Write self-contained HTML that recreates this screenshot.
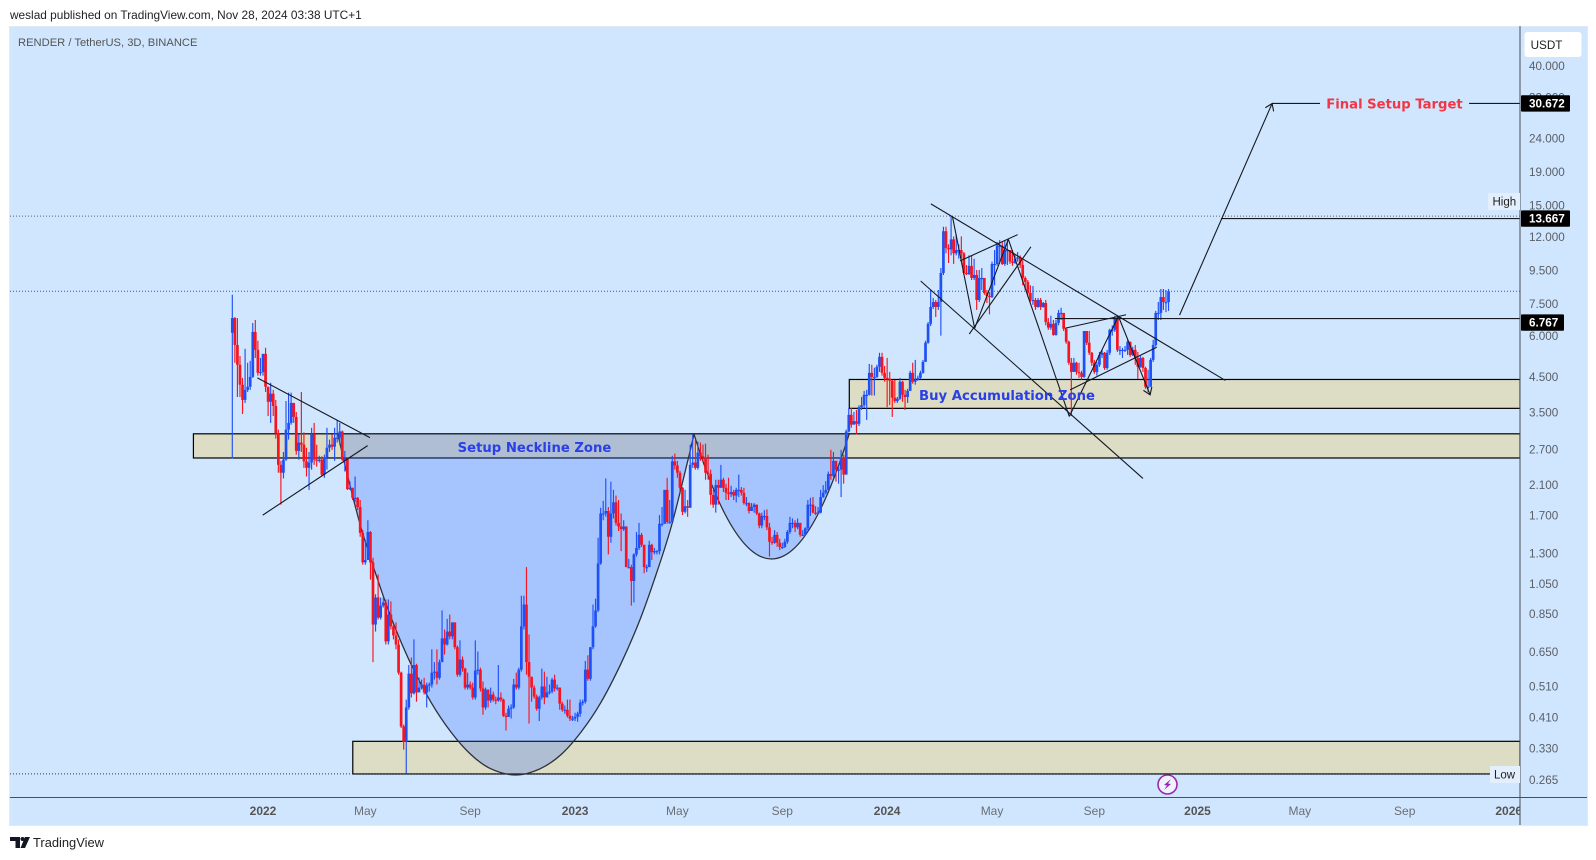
<!DOCTYPE html>
<html lang="en">
<head>
<meta charset="utf-8">
<title>RENDER / TetherUS chart</title>
<style>
html,body{margin:0;padding:0;background:#fff;width:1596px;height:860px;overflow:hidden}
svg{display:block}
text{font-family:"Liberation Sans",sans-serif}
.bold{font-family:"DejaVu Sans",sans-serif;font-weight:bold}
</style>
</head>
<body>
<svg id="chart" width="1596" height="860" viewBox="0 0 1596 860" xmlns="http://www.w3.org/2000/svg">
<defs><clipPath id="plotClip"><rect x="10" y="26" width="1510" height="799"/></clipPath></defs>
<text x="10" y="19" font-size="11.85" fill="#222">weslad published on TradingView.com, Nov 28, 2024 03:38 UTC+1</text>
<rect x="9.5" y="26.5" width="1578" height="799" fill="#d0e6fe" stroke="#e4e8ef"/>
<g id="zones" clip-path="url(#plotClip)"></g>
<g id="cups" clip-path="url(#plotClip)"></g>
<g id="candles" clip-path="url(#plotClip)"></g>
<g id="lines" clip-path="url(#plotClip)"></g>
<text class="bold" x="534.5" y="451.8" font-size="13.2" text-anchor="middle" fill="#2a3fe6">Setup Neckline Zone</text>
<text class="bold" x="1007" y="399.8" font-size="13.25" text-anchor="middle" fill="#2a3fe6">Buy Accumulation Zone</text>
<text class="bold" x="1394.5" y="108.3" font-size="13.2" text-anchor="middle" fill="#f23645">Final Setup Target</text>
<text x="18" y="46" font-size="11.2" fill="#555">RENDER / TetherUS, 3D, BINANCE</text>
<line x1="1520" y1="26" x2="1520" y2="825" stroke="#4a4f57" stroke-width="1"/>
<line x1="10" y1="797.5" x2="1587" y2="797.5" stroke="#4a4f57" stroke-width="1"/>
<g id="priceAxis"></g>
<g id="timeAxis" clip-path="url(#plotClip)"></g>
<g>
<rect x="1524.5" y="32" width="57" height="25" rx="3" fill="#fff"/>
<text x="1546.5" y="49" font-size="11.7" text-anchor="middle" fill="#222">USDT</text>
</g>
<g id="priceTags"></g>
<g>
<rect x="1488" y="193" width="32" height="17" fill="#e3effd"/>
<text x="1492.5" y="205.5" font-size="11.5" fill="#222">High</text>
</g>
<g>
<rect x="1490" y="766" width="30" height="17" fill="#e3effd"/>
<text x="1494" y="778.5" font-size="11.5" fill="#222">Low</text>
</g>
<g>
<circle cx="1167.5" cy="784.5" r="9.5" fill="#eef3fd" stroke="#9c27b0" stroke-width="1.6"/>
<polygon points="1171,779 1164,785 1167,785.5 1164,790 1171,784 1168,783.5" fill="#9c27b0"/>
</g>
<g>
<polygon points="10,837 20,837 20,848 15.5,848 15.5,841 10,841" fill="#131722"/>
<circle cx="22.5" cy="839" r="2" fill="#131722"/>
<polygon points="25,837 30,837 25,848 20.5,848" fill="#131722"/>
<text x="33" y="847" font-size="12.9" fill="#222">TradingView</text>
</g>
</svg>
<script>
/* ---------- chart data ---------- */
const firstOpen = 6.12;
const closes = [6.79,5.62,4.89,4.25,3.82,4.10,4.19,4.49,6.16,5.43,4.62,4.65,5.28,4.19,3.77,3.99,3.66,3.02,2.42,2.29,2.51,3.10,3.25,3.74,3.39,2.67,2.83,2.79,2.48,2.37,2.46,3.00,2.51,2.49,2.51,2.26,2.55,2.73,2.79,2.75,2.93,2.93,3.06,2.51,2.53,2.04,2.06,1.92,1.92,1.80,1.50,1.22,1.24,1.51,1.22,.788,.953,.827,.90,.92,.70,.845,.778,.73,.685,.562,.385,.346,.44,.558,.486,.593,.489,.506,.517,.489,.514,.517,.562,.566,.542,.605,.715,.685,.75,.725,.80,.672,.554,.616,.578,.506,.517,.506,.472,.57,.574,.503,.44,.499,.462,.482,.465,.462,.472,.465,.415,.412,.436,.44,.517,.506,.574,.778,.907,.605,.546,.506,.475,.436,.472,.51,.472,.489,.492,.535,.503,.506,.452,.433,.433,.415,.407,.407,.412,.421,.455,.458,.574,.538,.672,.778,.87,1.21,1.72,1.72,1.75,1.46,1.72,1.86,1.61,1.57,1.54,1.57,1.18,1.18,1.07,1.29,1.35,1.48,1.38,1.18,1.18,1.38,1.31,1.32,1.32,1.60,1.60,2.03,1.62,1.62,2.48,2.41,2.29,2.06,1.74,1.81,1.79,2.42,2.46,2.37,2.64,2.57,2.55,2.29,2.27,1.96,1.83,2.10,2.06,2.18,2.06,1.99,1.97,2.00,1.95,2.03,2.03,1.99,1.85,1.85,1.75,1.80,1.83,1.72,1.58,1.69,1.69,1.56,1.41,1.40,1.48,1.40,1.36,1.36,1.41,1.51,1.61,1.61,1.56,1.61,1.48,1.48,1.55,1.83,1.83,1.73,1.72,1.73,1.93,1.99,2.03,2.27,2.24,2.49,2.34,2.34,2.55,2.26,3.06,3.44,3.21,3.29,3.23,3.63,3.68,3.96,3.96,4.62,4.49,4.49,4.82,5.17,4.62,4.46,4.43,4.37,3.88,3.79,3.85,4.34,3.96,3.90,4.07,4.62,4.34,4.40,4.46,4.62,4.99,5.71,6.52,7.34,7.60,7.34,7.60,9.32,12.5,11.1,11.0,11.8,10.7,10.95,10.95,10.7,9.32,9.25,9.8,9.0,9.19,7.71,9.0,9.0,8.1,7.93,7.87,9.93,9.93,11.3,11.3,9.93,10.95,10.95,10.1,10.0,10.3,10.4,9.86,9.0,8.75,8.1,7.71,7.71,7.34,7.71,7.34,7.55,6.6,6.35,6.52,6.03,6.56,7.04,7.04,6.3,5.75,4.96,4.65,4.96,4.65,4.62,4.49,6.2,5.71,5.32,4.96,4.65,4.89,5.24,5.32,4.78,5.32,6.25,6.25,6.79,5.43,5.43,5.43,5.43,5.75,5.24,5.43,5.13,4.82,5.13,4.78,4.19,4.19,5.06,5.62,7.04,7.04,7.87,7.60,7.60,8.2];
const highs = [8.0,6.84,6.79,5.2,4.46,5.47,4.96,5.03,6.56,6.7,5.79,5.13,5.28,5.51,4.19,4.31,4.1,3.82,3.1,2.49,2.65,3.79,4.02,4.02,3.74,3.51,3.0,4.04,3.04,2.73,2.65,3.14,3.25,2.79,2.58,2.57,2.6,3.14,2.89,3.0,3.14,3.32,3.25,3.08,2.67,2.55,2.15,2.06,2.23,1.93,1.89,1.53,1.43,1.64,1.52,1.26,.975,1.12,.953,.953,.94,.94,.927,.788,.80,.71,.566,.39,.465,.593,.625,.71,.598,.542,.535,.542,.524,.524,.662,.605,.662,.616,.87,.761,.82,.845,.80,.80,.68,.705,.63,.582,.562,.528,.524,.705,.652,.582,.528,.506,.472,.506,.492,.475,.593,.489,.468,.424,.446,.45,.538,.562,.582,.965,.965,1.18,.735,.546,.514,.482,.478,.578,.566,.546,.517,.542,.554,.517,.506,.458,.446,.465,.465,.415,.424,.427,.465,.465,.61,.635,.672,.907,.945,1.45,1.79,1.88,2.2,1.80,2.15,2.03,1.95,1.89,1.72,1.64,1.57,1.25,1.2,1.3,1.51,1.61,1.5,1.38,1.2,1.42,1.39,1.35,1.33,1.7,1.8,2.03,2.21,1.89,2.58,2.62,2.49,2.32,2.07,2.03,1.89,2.79,3.0,2.89,2.85,2.83,2.79,2.81,2.6,2.34,2.03,2.18,2.18,2.42,2.21,2.12,2.21,2.09,2.03,2.06,2.26,2.07,2.06,1.93,1.86,1.85,1.85,1.83,1.73,1.73,1.76,1.77,1.61,1.46,1.53,1.51,1.44,1.40,1.44,1.53,1.68,1.66,1.64,1.66,1.58,1.53,1.56,1.89,1.92,1.93,1.81,1.8,2.03,2.1,2.16,2.31,2.69,2.65,2.49,2.42,2.69,2.6,3.1,3.61,3.61,3.51,3.56,3.68,3.9,4.07,4.1,4.92,4.89,4.79,4.89,5.32,5.32,4.85,5.13,4.65,4.4,4.4,3.9,4.46,4.37,4.1,4.13,4.69,4.96,5.06,4.53,4.69,5.06,5.79,6.6,8.27,7.82,7.71,8.27,9.65,12.9,12.9,11.4,13.9,12.05,12.2,11.4,12.05,10.8,9.86,10.55,10.55,10.3,9.52,9.52,9.65,9.0,8.27,8.15,10.1,10.95,11.6,11.74,11.6,11.74,11.74,10.95,10.95,10.65,10.8,10.55,10.2,9.1,8.87,8.55,8.5,7.82,7.82,7.82,7.6,7.71,6.79,6.9,6.7,6.7,7.19,7.3,7.04,6.3,5.79,5.13,5.13,4.99,4.96,4.69,6.2,6.2,6.2,5.35,5.06,4.99,5.35,5.43,5.35,5.43,6.3,6.45,6.9,6.9,5.58,5.51,5.58,5.83,5.75,5.55,5.62,5.35,5.2,5.17,4.82,4.72,5.13,5.83,7.14,7.6,8.33,8.33,8.27,8.33];
const lows = [2.53,4.96,3.9,3.9,3.46,3.74,4.04,4.1,4.46,5.13,4.53,4.53,4.53,4.04,3.41,3.25,3.41,2.91,2.29,1.83,2.2,2.49,2.89,3.21,3.25,2.6,2.51,2.65,2.37,2.23,2.03,2.34,2.42,2.39,2.46,2.24,2.21,2.34,2.65,2.69,2.49,2.83,2.79,2.49,2.31,2.03,2.03,1.89,1.86,1.76,1.46,1.2,1.2,1.24,1.08,.605,.75,.816,.816,.888,.685,.685,.761,.71,.662,.554,.381,.327,.276,.433,.472,.482,.458,.492,.499,.482,.44,.492,.506,.535,.517,.535,.605,.638,.68,.71,.71,.662,.546,.546,.566,.499,.499,.499,.465,.465,.554,.492,.418,.433,.44,.455,.458,.45,.458,.458,.412,.374,.412,.407,.436,.499,.499,.566,.761,.554,.393,.458,.468,.43,.40,.465,.45,.475,.482,.486,.492,.496,.433,.427,.421,.41,.40,.40,.40,.398,.412,.446,.452,.531,.531,.662,.771,.86,1.2,1.64,1.68,1.29,1.4,1.66,1.58,1.52,1.32,1.52,1.18,1.17,.90,.92,1.27,1.33,1.36,1.13,1.14,1.18,1.24,1.29,1.29,1.29,1.57,1.66,1.6,1.6,1.64,2.34,2.21,2.0,1.7,1.72,1.68,1.79,2.37,2.34,2.34,2.49,2.48,2.18,2.18,1.83,1.79,1.73,1.83,2.06,2.0,1.89,1.89,1.93,1.89,1.86,1.93,1.95,1.83,1.81,1.72,1.76,1.73,1.7,1.55,1.55,1.64,1.53,1.27,1.38,1.39,1.36,1.33,1.34,1.35,1.39,1.49,1.55,1.51,1.54,1.46,1.47,1.47,1.51,1.69,1.72,1.7,1.71,1.72,1.92,1.97,2.03,2.18,2.21,2.15,2.12,1.93,2.12,2.26,3.04,3.14,3.21,3.0,3.18,3.56,3.61,3.32,3.94,3.94,3.94,4.46,4.65,4.53,4.34,3.63,3.68,3.39,3.74,3.74,3.82,3.77,3.56,3.74,4.1,4.28,4.25,4.37,4.43,4.59,4.99,5.67,6.42,7.24,6.84,7.19,6.0,9.19,10.7,10.0,10.55,9.93,10.55,10.3,10.3,9.19,9.19,9.19,8.87,8.87,7.19,7.6,8.27,8.0,7.55,6.97,7.82,8.55,9.8,10.1,9.86,9.8,9.86,9.93,9.8,9.93,10.1,9.65,8.55,8.27,7.87,7.6,7.45,7.19,7.3,7.19,7.3,6.45,6.25,6.25,6.0,6.0,6.45,6.7,6.2,5.67,4.89,3.41,4.65,4.56,4.46,4.4,4.46,5.62,5.24,4.85,4.59,4.53,4.82,5.13,4.72,4.72,5.24,6.0,6.16,5.35,5.24,5.13,5.35,5.24,5.17,5.2,4.89,4.43,4.79,4.65,4.13,4.04,4.22,4.99,5.55,6.7,6.7,7.19,7.08,7.14];
const priceTicks = [40,32,24,19,15,12,9.5,7.5,6,4.5,3.5,2.7,2.1,1.7,1.3,1.05,.85,.65,.51,.41,.33,.265];
const timeTickLabels = ["2022","May","Sep","2023","May","Sep","2024","May","Sep","2025","May","Sep","2026"];
const timeTickDates = ["2022-01-01","2022-05-01","2022-09-01","2023-01-02","2023-05-02","2023-09-02","2024-01-03","2024-05-05","2024-09-02","2025-01-01","2025-05-01","2025-09-01","2026-01-01"];
const firstBarDate = "2021-11-26";
const tagPrices = [30.672,13.667,6.767];

/* drawings, anchored as [bar index, price] */
const zoneNeck = [-15.2,3.01,2.54];
const zoneBuy = [241.2,4.41,3.60];
const zoneLow = [47.1,.3468,.2757];
const cupBig = [[41.3,3.0],[44.4,2.353],[50.3,1.558],[56.2,1.116],[62.4,.816],[69.8,.598],[77.7,.456],[85.5,.37],[93.3,.316],[101.1,.286],[110.9,.2738],[120.3,.286],[128.5,.316],[136.3,.37],[144.1,.456],[151.9,.598],[159.4,.816],[165.6,1.116],[171.5,1.558],[177.3,2.353],[180.5,3.0]];
const cupSmallStart = [180.5,3.0];
const cupSmallControl = [210.8,.52];
const cupSmallEnd = [241.1,3.0];
const trendSegments = [
 [9.8,4.46,53.8,2.93],[11.9,1.70,52.9,2.77],[273.1,15.15,388.2,4.38],[269.1,8.81,356,2.20],
 [281.5,13.9,290.2,6.32],[290.2,6.32,303.4,11.8],[303.4,11.8,327.2,3.40],[284.5,10.15,307,12.2],
 [288.1,6.07,312.2,11.2],[327.2,3.40,346.4,6.87],[346.4,6.87,358.8,3.96],[325.5,6.32,349.4,6.95],
 [327.5,4.10,361.4,5.53],[370.3,6.93,406.5,30.672],[406.5,30.672,425.2,30.672],[483.5,30.672,503.4,30.672],
 [386.5,13.667,503.4,13.667],[321.6,6.767,503.4,6.767]];
const arrowSegmentIndexes = [13,10];

/* ---------- scales ---------- */
const barX0 = 232.3, barStep = 2.558, priceRefY = 65.7, priceRef = 40, pxPerLog = 142.3;
function xOf(i){ return barX0 + barStep * i; }
function yOf(p){ return priceRefY + pxPerLog * Math.log(priceRef / p); }
function dateToBar(s){ return (Date.parse(s) - Date.parse(firstBarDate)) / 864e5 / 3; }
const NS = "http://www.w3.org/2000/svg";
function mk(tag, parent){ const e = document.createElementNS(NS, tag); parent.appendChild(e); return e; }
function setA(e, o){ for (const k in o) e.setAttribute(k, o[k]); return e; }
const $ = id => document.getElementById(id);

/* ---------- zones ---------- */
function drawZone(z, name){
  const r = mk('rect', $('zones'));
  
  
  const y1 = yOf(z[1]), y2 = yOf(z[2]), x1 = xOf(z[0]);
  setA(r, {x:x1, y:y1, width:1520 - x1, height:y2 - y1, fill:'#dddcc5', stroke:'#000', 'stroke-width':1.2});
}
drawZone(zoneNeck, 'setup-neckline-zone');
drawZone(zoneBuy, 'buy-accumulation-zone');
drawZone(zoneLow, 'bottom-support-zone');

/* ---------- cups ---------- */
function smooth(pts){
  let d = 'M' + pts[0][0].toFixed(1) + ' ' + pts[0][1].toFixed(1);
  for (let k = 0; k < pts.length - 1; k++){
    const p0 = pts[Math.max(k-1,0)], p1 = pts[k], p2 = pts[k+1], p3 = pts[Math.min(k+2,pts.length-1)];
    const c1x = p1[0] + (p2[0]-p0[0])/6, c1y = p1[1] + (p2[1]-p0[1])/6;
    const c2x = p2[0] - (p3[0]-p1[0])/6, c2y = p2[1] - (p3[1]-p1[1])/6;
    d += 'C' + [c1x,c1y,c2x,c2y,p2[0],p2[1]].map(v => v.toFixed(1)).join(' ');
  }
  return d;
}
function drawCupPath(d, name){
  const f = mk('path', $('cups'));
  
  
  setA(f, {d:d + 'Z', fill:'rgba(41,98,255,.25)', stroke:'none'});
  const s = mk('path', $('cups'));
  
  
  setA(s, {d:d, fill:'none', stroke:'#2c3038', 'stroke-width':1.3});
}
drawCupPath(smooth(cupBig.map(a => [xOf(a[0]), yOf(a[1])])), 'large-cup');
drawCupPath('M' + xOf(cupSmallStart[0]) + ' ' + yOf(cupSmallStart[1]) + 'Q' + xOf(cupSmallControl[0]) + ' ' + yOf(cupSmallControl[1]) + ' ' + xOf(cupSmallEnd[0]) + ' ' + yOf(cupSmallEnd[1]), 'small-cup');

/* ---------- candles ---------- */
closes.forEach((c, i) => {
  const o = i ? closes[i-1] : firstOpen;
  const up = c >= o;
  const col = up ? '#1f50f5' : '#f8141f';
  const x = xOf(i);
  const w = mk('line', $('candles'));
  
  
  setA(w, {x1:x, x2:x, y1:yOf(Math.max(highs[i], o, c)), y2:yOf(Math.min(lows[i], o, c)), stroke:col, 'stroke-width':1.15});
  const b = mk('rect', $('candles'));
  
  
  const top = yOf(Math.max(o, c));
  setA(b, {x:x - 1.35, y:top, width:2.7, height:Math.max(yOf(Math.min(o, c)) - top, 1.2), fill:col});
});

/* ---------- reference lines ---------- */
function dotted(y, x2, col, name){
  const l = mk('line', $('lines'));
  
  
  setA(l, {x1:10, x2:x2, y1:y, y2:y, stroke:col, 'stroke-width':1, 'stroke-dasharray':'1 2'});
}
dotted(yOf(Math.max.apply(null, highs)), 1520, '#5a6270', 'high-dotted-line');
dotted(yOf(closes[closes.length-1]), 1520, '#2a4ff0', 'last-price-dotted-line');
dotted(yOf(Math.min.apply(null, lows)), 1490, '#333', 'low-dotted-line');

/* ---------- trend lines ---------- */
trendSegments.forEach(s => {
  const l = mk('line', $('lines'));
  
  
  setA(l, {x1:xOf(s[0]), y1:yOf(s[1]), x2:xOf(s[2]), y2:yOf(s[3]), stroke:'#15181e', 'stroke-width':1.1});
});
arrowSegmentIndexes.forEach(k => {
  const s = trendSegments[k];
  const x = xOf(s[2]), y = yOf(s[3]);
  const a = Math.atan2(y - yOf(s[1]), x - xOf(s[0])), h = 8;
  const p = mk('polyline', $('lines'));
  
  
  const ax = x - h*Math.cos(a-.6), ay = y - h*Math.sin(a-.6), bx = x - h*Math.cos(a+.6), by = y - h*Math.sin(a+.6);
  setA(p, {points:[ax,ay,x,y,bx,by].join(' '), fill:'none', stroke:'#15181e', 'stroke-width':1.1});
});

/* ---------- axes ---------- */
priceTicks.forEach(p => {
  const t = mk('text', $('priceAxis'));
  
  
  setA(t, {x:1529, y:yOf(p) + 4.2, 'font-size':11.7, fill:'#5a5f68'});
  t.textContent = p.toFixed(3);
});
timeTickLabels.forEach((lab, k) => {
  const t = mk('text', $('timeAxis'));
  
  
  const year = /^\d+$/.test(lab);
  setA(t, {x:xOf(dateToBar(timeTickDates[k])), y:815, 'font-size':12, 'text-anchor':'middle', fill:year ? '#555' : '#6a6e76', 'font-weight':year ? 'bold' : 'normal'});
  t.textContent = lab;
});
tagPrices.forEach(p => {
  const txt = p.toFixed(3);
  const cy = p === 6.767 ? yOf(p) + 4 : yOf(p);
  const r = mk('rect', $('priceTags'));
  
  
  setA(r, {x:1521, y:cy - 8.2, width:p < 10 ? 43 : 49, height:16.4, rx:1, fill:'#000'});
  const t = mk('text', $('priceTags'));
  
  
  setA(t, {x:1529, y:cy + 4.2, 'font-size':11.7, fill:'#fff', 'font-weight':'bold'});
  t.textContent = txt;
});
</script>
</body>
</html>
